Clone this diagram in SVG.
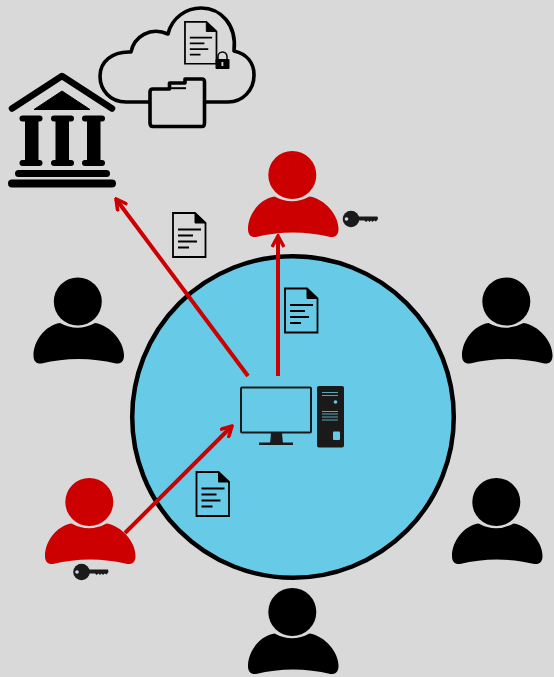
<svg xmlns="http://www.w3.org/2000/svg" width="554" height="677" viewBox="0 0 554 677">
<style>
.doc{fill:none;stroke:#000;stroke-width:1.8}
.conn{fill:none;stroke:#cc0000;stroke-width:4}
.k{fill:#1a1a1a}
.blk{fill:#000}
.red{fill:#cc0000}
.ol{fill:none;stroke:#000;stroke-width:3.600;stroke-linejoin:round}
</style>
<defs>
<g id="person">
<circle cx="0.300" cy="0" r="24"/>
<path d="M-17.5,21.5 Q0,31 17.500,21.5 C33,24 46.500,40 46.500,54 C46.500,60 43.500,62.500 38.500,62 C14,56 -12,56 -36,62 C-41,62.500 -44,60 -44,54 C-44,40 -33,24 -17.500,21.500 Z"/>
</g>
<g id="doc">
<path class="doc" d="M1,1 H23 L33.500,11 V45 H1 Z"/>
<path d="M23,1 L33.500,11 H23 Z" fill="#000" stroke="#000"/>
<path class="doc" d="M6,17.500 H29 M6,23.500 H21 M6,29.500 H25 M6,35.500 H17"/>
</g>
<g id="key">
<circle cx="8" cy="8" r="8.300" class="k"/>
<path class="k" d="M14,5.500 H34.500 L35,8 L33,10.500 L31,9.500 L29.500,11 L28,9.500 L26.500,11 L25,9.500 L23,11 L21.500,9.500 H14 Z"/>
<circle cx="3.500" cy="8" r="1.800" fill="#d9d9d9"/>
</g>
<marker id="arr" viewBox="0 0 14 14" refX="12" refY="7" markerWidth="14" markerHeight="14" markerUnits="userSpaceOnUse" orient="auto">
<path d="M1,1 L12,7 L1,13" fill="none" stroke="#cc0000" stroke-width="3.500"/>
</marker>
</defs>
<rect width="554" height="677" fill="#d9d9d9"/>
<g id="ring"><circle cx="293" cy="417" r="160.800" fill="#67cae6" stroke="#000" stroke-width="4.500"/></g>
<g id="bank" class="blk">
<path d="M12,108.500 L62,76 L112,108.500" fill="none" stroke="#000" stroke-width="6.500" stroke-linecap="round" stroke-linejoin="round"/>
<path d="M34,109.500 L62,91 L90,109.500 Z" stroke="#000" stroke-linejoin="round"/>
<rect x="19.500" y="115.500" width="23" height="6" rx="3"/>
<rect x="51" y="115.500" width="23" height="6" rx="3"/>
<rect x="82" y="115.500" width="23" height="6" rx="3"/>
<rect x="25" y="120" width="13.500" height="42"/>
<rect x="55.500" y="120" width="13.500" height="42"/>
<rect x="87" y="120" width="13.500" height="42"/>
<rect x="19.500" y="160" width="23" height="6" rx="3"/>
<rect x="51" y="160" width="23" height="6" rx="3"/>
<rect x="82" y="160" width="23" height="6" rx="3"/>
<rect x="15" y="170" width="95" height="7" rx="3.500"/>
<rect x="8" y="179.500" width="108" height="8" rx="4"/>
</g>
<g id="cloud">
<path class="ol" d="M150,102 H126 C110,102 100,90 100,76 C100,62 112,51 131,52 C134,37 150,26 168,34 C172,17 187,8 201,8 C221,8 237,25 234,51 C247,54 254,63 254,75 C254,90 243,102 228,102 H205"/>
<path class="ol" d="M153,89 H169.500 V83 H185 V79 H202 Q204.500,79 204.500,82 V123 Q204.500,126.500 202,126.500 H153 Q150,126.500 150,123 V92 Q150,89 153,89 Z"/>
<path d="M169,88.200 H186" stroke="#000" stroke-width="2" fill="none"/>
<use href="#doc" transform="translate(184,21) scale(0.97,0.95)"/>
<rect x="215.500" y="59" width="14" height="10" rx="1" fill="#000"/>
<path d="M218,60 V56.500 A4.500,4.500 0 0 1 227,56.500 V60" fill="none" stroke="#000" stroke-width="1.500"/>
<rect x="221.500" y="62" width="1.800" height="4" fill="#d9d9d9"/>
</g>
<g id="computer">
<rect x="241" y="387.500" width="70" height="45" rx="1" fill="none" stroke="#1a1a1a" stroke-width="2"/>
<path class="k" d="M271,433 H282 L283,444 H270 Z"/>
<rect x="259" y="442.500" width="34" height="2.500" class="k"/>
<rect x="317" y="386" width="27" height="61.500" rx="2" class="k"/>
<path d="M322,392.500 H338 M322,395.500 H338" stroke="#67cae6" stroke-width="0.800" fill="none"/>
<circle cx="335.500" cy="402" r="1.800" fill="#67cae6"/>
<path d="M322,411.500 H338 M322,414 H338 M322,417 H338 M322,420 H338" stroke="#67cae6" stroke-width="0.800" fill="none"/>
<rect x="333" y="431.500" width="7" height="8.500" rx="1" fill="#67cae6"/>
</g>
<g id="doc-1"><use href="#doc" transform="translate(172,212)"/></g>
<g id="doc-2"><use href="#doc" transform="translate(284,287.500)"/></g>
<g id="doc-3"><use href="#doc" transform="translate(195.500,471)"/></g>
<g id="connectors">
<path class="conn" marker-end="url(#arr)" d="M248,376 L116,199"/>
<path class="conn" marker-end="url(#arr)" d="M278,376 V236"/>
<path class="conn" marker-end="url(#arr)" d="M125,533 L232,426"/>
</g>
<g id="person-top" class="red"><use href="#person" transform="translate(292,175)"/></g>
<g id="person-red-left" class="red"><use href="#person" transform="translate(89,502)"/></g>
<g id="person-left" class="blk"><use href="#person" transform="translate(77.500,301.500)"/></g>
<g id="person-right" class="blk"><use href="#person" transform="translate(506,301.500)"/></g>
<g id="person-lower-right" class="blk"><use href="#person" transform="translate(496,502)"/></g>
<g id="person-bottom" class="blk"><use href="#person" transform="translate(292,612)"/></g>
<g id="key-top"><use href="#key" transform="translate(343,211)"/></g>
<g id="key-left"><use href="#key" transform="translate(73.500,564)"/></g>
</svg>
